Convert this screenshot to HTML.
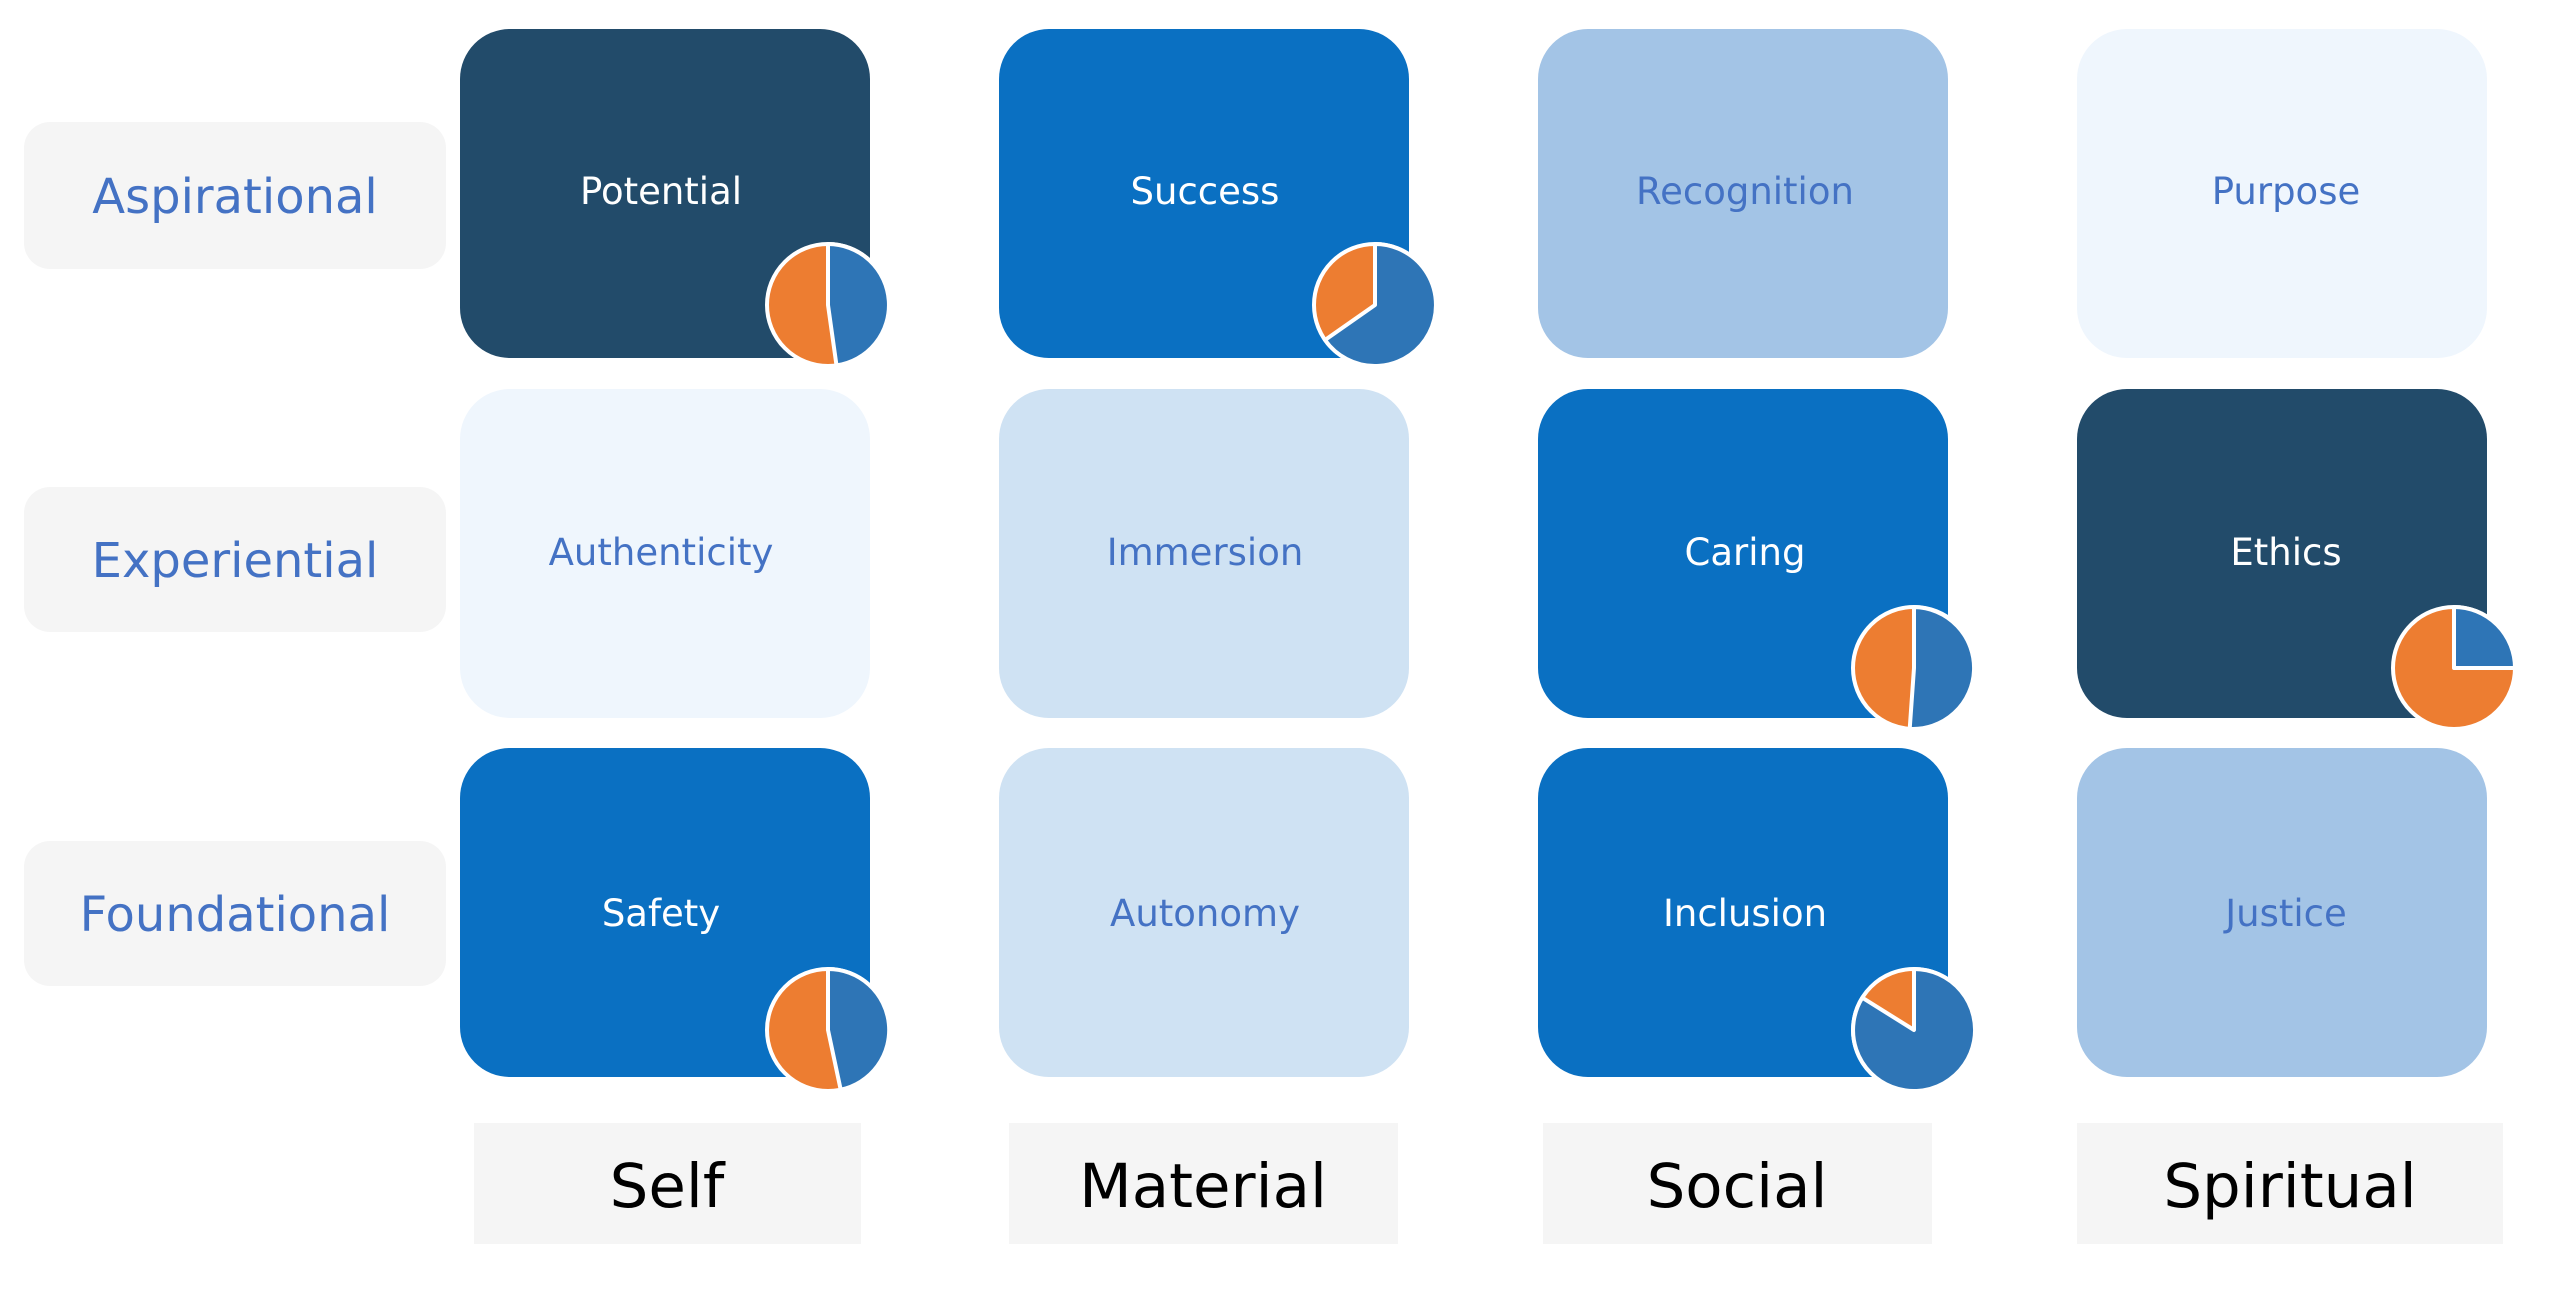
<!DOCTYPE html>
<html><head><meta charset="utf-8"><style>
html,body{margin:0;padding:0;background:#fff;}
svg{display:block;}
text{font-family:"DejaVu Sans","Liberation Sans",sans-serif;}
</style></head><body>
<svg width="2560" height="1298" viewBox="0 0 2560 1298" xmlns="http://www.w3.org/2000/svg">
<rect width="2560" height="1298" fill="#fff"/>
<g fill="#f5f5f5">
<rect x="24" y="122" width="422" height="147" rx="26"/>
<rect x="24" y="487" width="422" height="145" rx="26"/>
<rect x="24" y="841" width="422" height="145" rx="26"/>
</g>
<g fill="#4472c4" font-size="48" text-anchor="middle">
<text x="235" y="213">Aspirational</text>
<text x="235" y="577">Experiential</text>
<text x="235" y="931">Foundational</text>
</g>
<g fill="#f5f5f5">
<rect x="474" y="1123" width="387" height="121"/>
<rect x="1009" y="1123" width="389" height="121"/>
<rect x="1543" y="1123" width="389" height="121"/>
<rect x="2077" y="1123" width="426" height="121"/>
</g>
<g fill="#000" font-size="61" text-anchor="middle">
<text x="667" y="1207">Self</text>
<text x="1203" y="1207">Material</text>
<text x="1737" y="1207">Social</text>
<text x="2290" y="1207">Spiritual</text>
</g>
<g>
<rect x="460" y="29" width="410" height="329" rx="50" fill="#224b6a"/>
<rect x="999" y="29" width="410" height="329" rx="50" fill="#0a70c2"/>
<rect x="1538" y="29" width="410" height="329" rx="50" fill="#a3c4e6"/>
<rect x="2077" y="29" width="410" height="329" rx="50" fill="#eff6fd"/>
<rect x="460" y="389" width="410" height="329" rx="50" fill="#eff6fd"/>
<rect x="999" y="389" width="410" height="329" rx="50" fill="#cfe2f3"/>
<rect x="1538" y="389" width="410" height="329" rx="50" fill="#0a70c2"/>
<rect x="2077" y="389" width="410" height="329" rx="50" fill="#224b6a"/>
<rect x="460" y="748" width="410" height="329" rx="50" fill="#0a70c2"/>
<rect x="999" y="748" width="410" height="329" rx="50" fill="#cfe2f3"/>
<rect x="1538" y="748" width="410" height="329" rx="50" fill="#0a70c2"/>
<rect x="2077" y="748" width="410" height="329" rx="50" fill="#a3c4e6"/>
</g>
<g font-size="37" text-anchor="middle">
<text x="661" y="204" fill="#fff">Potential</text>
<text x="1205" y="204" fill="#fff">Success</text>
<text x="1745" y="204" fill="#4472c4">Recognition</text>
<text x="2286" y="204" fill="#4472c4">Purpose</text>
<text x="661" y="565" fill="#4472c4">Authenticity</text>
<text x="1205" y="565" fill="#4472c4">Immersion</text>
<text x="1745" y="565" fill="#fff">Caring</text>
<text x="2286" y="565" fill="#fff">Ethics</text>
<text x="661" y="926" fill="#fff">Safety</text>
<text x="1205" y="926" fill="#4472c4">Autonomy</text>
<text x="1745" y="926" fill="#fff">Inclusion</text>
<text x="2286" y="926" fill="#4472c4">Justice</text>
</g>
<g stroke="#fff" stroke-width="4" stroke-linejoin="round">
<circle cx="828" cy="305" r="61" fill="#ed7d31"/>
<path d="M828 305 L828 244 A61 61 0 0 1 836.5 365.4 Z" fill="#2e75b6"/>
<circle cx="1375" cy="305" r="61" fill="#ed7d31"/>
<path d="M1375 305 L1375 244 A61 61 0 1 1 1325 340 Z" fill="#2e75b6"/>
<circle cx="1914" cy="668" r="61" fill="#ed7d31"/>
<path d="M1914 668 L1914 607 A61 61 0 1 1 1909.7 728.9 Z" fill="#2e75b6"/>
<circle cx="2454" cy="668" r="61" fill="#ed7d31"/>
<path d="M2454 668 L2454 607 A61 61 0 0 1 2515 668 Z" fill="#2e75b6"/>
<circle cx="828" cy="1030" r="61" fill="#ed7d31"/>
<path d="M828 1030 L828 969 A61 61 0 0 1 840.7 1089.7 Z" fill="#2e75b6"/>
<circle cx="1914" cy="1030" r="61" fill="#ed7d31"/>
<path d="M1914 1030 L1914 969 A61 61 0 1 1 1862.3 997.7 Z" fill="#2e75b6"/>
</g>
</svg>
</body></html>
